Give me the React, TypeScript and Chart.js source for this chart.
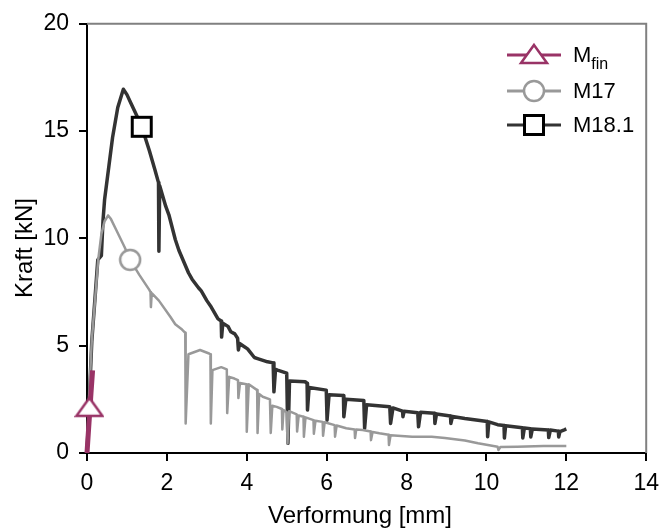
import React, { useEffect, useRef } from "react";
import { Chart, registerables } from "chart.js";

Chart.register(...registerables);

// ---- data ----
const xTickValues = [0, 2, 4, 6, 8, 10, 12, 14];
const yTickValues = [0, 5, 10, 15, 20];
const xTitle = "Verformung [mm]";
const yTitle = "Kraft [kN]";

const mfinX = [0, 0.05, 0.1, 0.14];
const mfinY = [0, 1.4, 2.8, 3.85];

const m17X = [0, 0.05, 0.12, 0.2, 0.28, 0.36, 0.44, 0.53, 0.6, 0.73, 0.94, 1.08, 1.31, 1.56, 1.59, 1.6, 1.62, 1.8, 2.09, 2.21, 2.38, 2.46, 2.47, 2.54, 2.83, 3.04, 3.09, 3.1, 3.14, 3.36, 3.5, 3.51, 3.56, 3.69, 3.78, 3.79, 3.83, 3.99, 4.0, 4.05, 4.26, 4.27, 4.31, 4.4, 4.58, 4.6, 4.64, 4.75, 4.88, 4.89, 4.92, 5.0, 5.02, 5.06, 5.25, 5.26, 5.3, 5.42, 5.43, 5.47, 5.67, 5.68, 5.72, 5.9, 5.91, 5.95, 6.2, 6.21, 6.25, 6.49, 6.7, 6.71, 6.74, 6.9, 7.1, 7.11, 7.15, 7.32, 7.55, 7.56, 7.6, 8.14, 8.63, 8.96, 9.46, 9.79, 10.28, 10.3, 10.35, 10.77, 11.43, 12.0];
const m17Y = [0, 2.5, 5.26, 7.1, 9.0, 10.2, 10.8, 11.07, 10.9, 10.4, 9.6, 9.0, 8.3, 7.6, 7.5, 6.8, 7.45, 7.1, 6.34, 6.0, 5.75, 5.6, 1.38, 4.6, 4.8, 4.65, 4.6, 1.38, 3.86, 4.0, 3.9, 1.86, 3.55, 3.47, 3.4, 2.56, 3.26, 3.2, 0.99, 3.2, 2.93, 0.93, 2.75, 2.62, 2.5, 0.93, 2.2, 2.15, 2.05, 1.1, 2.0, 1.9, 0.45, 1.95, 1.8, 1.0, 1.75, 1.69, 0.76, 1.66, 1.53, 0.9, 1.5, 1.45, 0.8, 1.43, 1.3, 0.76, 1.28, 1.15, 1.1, 0.7, 1.09, 1.07, 1.0, 0.6, 0.98, 0.92, 0.85, 0.37, 0.83, 0.76, 0.76, 0.7, 0.58, 0.45, 0.29, 0.14, 0.28, 0.29, 0.33, 0.33];

const m181X = [0, 0.06, 0.12, 0.2, 0.27, 0.36, 0.4, 0.44, 0.55, 0.64, 0.77, 0.91, 1.0, 1.1, 1.25, 1.37, 1.56, 1.7, 1.79, 1.8, 1.82, 1.97, 2.05, 2.21, 2.3, 2.46, 2.54, 2.63, 2.79, 2.86, 3.0, 3.11, 3.28, 3.36, 3.37, 3.4, 3.53, 3.6, 3.7, 3.77, 3.79, 3.82, 3.94, 4.02, 4.19, 4.27, 4.52, 4.66, 4.68, 4.72, 4.77, 5.0, 5.03, 5.07, 5.46, 5.51, 5.52, 5.56, 5.99, 6.01, 6.06, 6.42, 6.43, 6.48, 6.93, 6.95, 7.0, 7.58, 7.6, 7.66, 7.9, 7.91, 7.94, 8.28, 8.3, 8.35, 8.7, 8.71, 8.75, 9.1, 9.11, 9.15, 9.46, 9.79, 10.02, 10.03, 10.06, 10.28, 10.44, 10.45, 10.48, 10.9, 10.91, 10.95, 11.1, 11.11, 11.15, 11.55, 11.56, 11.6, 11.8, 11.81, 11.84, 11.95, 12.0];
const m181Y = [0, 2.6, 5.2, 7.2, 9.0, 9.2, 10.8, 11.8, 13.4, 14.7, 16.1, 16.95, 16.7, 16.3, 15.7, 15.2, 14.1, 13.2, 12.6, 9.4, 12.45, 11.5, 11.1, 9.95, 9.45, 8.75, 8.4, 8.1, 7.7, 7.55, 7.1, 6.8, 6.25, 6.15, 5.4, 6.05, 5.9, 5.65, 5.55, 5.35, 4.8, 5.1, 4.95, 4.85, 4.45, 4.4, 4.25, 4.2, 2.85, 3.9, 3.86, 3.72, 0.45, 3.35, 3.32, 3.25, 2.0, 3.05, 2.93, 1.53, 2.72, 2.68, 1.69, 2.5, 2.45, 1.15, 2.25, 2.15, 1.38, 2.1, 1.95, 1.69, 1.95, 1.88, 1.22, 1.9, 1.85, 1.38, 1.82, 1.72, 1.38, 1.7, 1.61, 1.53, 1.47, 0.76, 1.45, 1.32, 1.28, 0.7, 1.27, 1.18, 0.7, 1.17, 1.13, 0.75, 1.12, 1.07, 0.72, 1.07, 1.02, 0.75, 1.0, 1.08, 1.12];

// one marker per series
const markerX = [0.06, 1.08, 1.37];
const markerY = [2.15, 9.0, 15.2];

const COL_MFIN = "#993366";
const COL_M17 = "#999999";
const COL_M181 = "#333333";
const FONT = "'Liberation Sans', Arial, Helvetica, sans-serif";

function makeTriangle(): HTMLCanvasElement {
  const c = document.createElement("canvas");
  c.width = 30; c.height = 22;
  const g = c.getContext("2d")!;
  g.beginPath();
  g.moveTo(15, 2); g.lineTo(28, 20); g.lineTo(2, 20); g.closePath();
  g.fillStyle = "#fff"; g.fill();
  g.lineWidth = 2.5; g.strokeStyle = COL_MFIN; g.lineJoin = "miter"; g.stroke();
  return c;
}
function makeCircle(): HTMLCanvasElement {
  const c = document.createElement("canvas");
  c.width = 24; c.height = 24;
  const g = c.getContext("2d")!;
  g.beginPath(); g.arc(12, 12, 10, 0, Math.PI * 2);
  g.fillStyle = "#fff"; g.fill();
  g.lineWidth = 2.5; g.strokeStyle = COL_M17; g.stroke();
  return c;
}
function makeSquare(): HTMLCanvasElement {
  const c = document.createElement("canvas");
  c.width = 24; c.height = 24;
  const g = c.getContext("2d")!;
  g.fillStyle = "#fff"; g.fillRect(2.5, 2.5, 19, 19);
  g.lineWidth = 3; g.strokeStyle = "#000"; g.strokeRect(2.5, 2.5, 19, 19);
  return c;
}

const zip = (xs: number[], ys: number[]) => xs.map((x, i) => ({ x, y: ys[i] }));

const framePlugin = {
  id: "frame",
  afterDraw(chart: any) {
    const { ctx, chartArea: a } = chart;
    ctx.save();
    ctx.strokeStyle = "#808080";
    ctx.lineWidth = 2;
    ctx.beginPath();
    ctx.moveTo(a.left, a.top);
    ctx.lineTo(a.right, a.top);
    ctx.lineTo(a.right, a.bottom);
    ctx.stroke();
    ctx.restore();
  },
};

function LegendIcon({ kind, color }: { kind: string; color: string }) {
  return (
    <svg width={56} height={26} style={{ position: "absolute", left: 0, top: 0 }}>
      <line x1={1} y1={13} x2={55} y2={13} stroke={color} strokeWidth={3} />
      {kind === "tri" && (
        <polygon points="28,3 41,21 15,21" fill="#fff" stroke={COL_MFIN} strokeWidth={2.5} />
      )}
      {kind === "circ" && <circle cx={28} cy={13} r={10} fill="#fff" stroke={COL_M17} strokeWidth={2.5} />}
      {kind === "sq" && <rect x={18.5} y={3.5} width={19} height={19} fill="#fff" stroke="#000" strokeWidth={3} />}
    </svg>
  );
}

export default function App() {
  const ref = useRef<HTMLCanvasElement>(null);

  useEffect(() => {
    document.body.style.margin = "0";
    const canvas = ref.current!;
    const tri = makeTriangle();
    const circ = makeCircle();
    const sq = makeSquare();
    const tickFont = { family: FONT, size: 23 };
    const chart = new Chart(canvas, {
      type: "line",
      data: {
        datasets: [
          { data: [{ x: markerX[0], y: markerY[0] }], showLine: false, pointStyle: tri as any, pointRadius: 10, borderColor: COL_MFIN, backgroundColor: "#fff", clip: false },
          { data: [{ x: markerX[1], y: markerY[1] }], showLine: false, pointStyle: circ as any, pointRadius: 10, borderColor: COL_M17, backgroundColor: "#fff", clip: false },
          { data: [{ x: markerX[2], y: markerY[2] }], showLine: false, pointStyle: sq as any, pointRadius: 10, borderColor: COL_M181, backgroundColor: "#fff", clip: false },
          { data: zip(mfinX, mfinY), borderColor: COL_MFIN, borderWidth: 5, pointRadius: 0, tension: 0, clip: false, borderJoinStyle: "round" },
          { data: zip(m17X, m17Y), borderColor: COL_M17, borderWidth: 2.5, pointRadius: 0, tension: 0, clip: false, borderJoinStyle: "round" },
          { data: zip(m181X, m181Y), borderColor: COL_M181, borderWidth: 3.5, pointRadius: 0, tension: 0, clip: false, borderJoinStyle: "round" },
        ],
      },
      options: {
        responsive: false,
        animation: false,
        devicePixelRatio: 1,
        events: [],
        layout: { padding: { top: 22, right: 14, left: 0, bottom: 0 } },
        plugins: { legend: { display: false }, tooltip: { enabled: false } },
        scales: {
          x: {
            type: "linear",
            min: 0,
            max: 14,
            afterBuildTicks: (s: any) => { s.ticks = xTickValues.map((v) => ({ value: v })); },
            afterFit: (s: any) => { s.height = 75; },
            ticks: { font: tickFont, color: "#000", padding: 9, maxRotation: 0, autoSkip: false },
            grid: { drawOnChartArea: false, drawTicks: true, tickLength: 8, color: "#000", lineWidth: 2 },
            border: { color: "#000", width: 2 },
            title: { display: false },
          },
          y: {
            type: "linear",
            min: 0,
            max: 20,
            afterBuildTicks: (s: any) => { s.ticks = yTickValues.map((v) => ({ value: v })); },
            afterFit: (s: any) => { s.width = 87; },
            ticks: { font: tickFont, color: "#000", padding: 10, autoSkip: false },
            grid: { drawOnChartArea: false, drawTicks: true, tickLength: 8, color: "#000", lineWidth: 2 },
            border: { color: "#000", width: 2 },
            title: { display: false },
          },
        },
      },
      plugins: [framePlugin],
    } as any);
    return () => chart.destroy();
  }, []);

  const rows = [
    { kind: "tri", color: COL_MFIN, y: 55 },
    { kind: "circ", color: COL_M17, y: 91 },
    { kind: "sq", color: COL_M181, y: 125 },
  ];
  const textStyle: React.CSSProperties = {
    position: "absolute",
    left: 573,
    fontFamily: FONT,
    fontSize: 22,
    lineHeight: "22px",
    color: "#000",
    whiteSpace: "nowrap",
  };
  const titleStyle: React.CSSProperties = {
    position: "absolute",
    fontFamily: FONT,
    fontSize: 24,
    lineHeight: "24px",
    color: "#000",
    whiteSpace: "nowrap",
    textAlign: "center",
  };

  return (
    <div style={{ position: "absolute", left: 0, top: 0, width: 668, height: 528, background: "#fff", overflow: "hidden" }}>
      <canvas ref={ref} width={668} height={528} style={{ display: "block" }} />
      <div style={{ ...titleStyle, left: 360 - 150, width: 300, top: 503 }}>{xTitle}</div>
      <div style={{ ...titleStyle, left: 24 - 100, width: 200, height: 24, top: 247.5 - 12, transform: "rotate(-90deg)" }}>{yTitle}</div>
      {rows.map((r, i) => (
        <div key={i} style={{ position: "absolute", left: 506, top: r.y - 13, width: 56, height: 26 }}>
          <LegendIcon kind={r.kind} color={r.color} />
        </div>
      ))}
      <div style={{ ...textStyle, top: 55 - 11 }}>
        M<sub style={{ fontSize: 16, verticalAlign: "-7px", lineHeight: 0 }}>fin</sub>
      </div>
      <div style={{ ...textStyle, top: 91 - 11 }}>M17</div>
      <div style={{ ...textStyle, top: 125 - 11 }}>M18.1</div>
    </div>
  );
}
